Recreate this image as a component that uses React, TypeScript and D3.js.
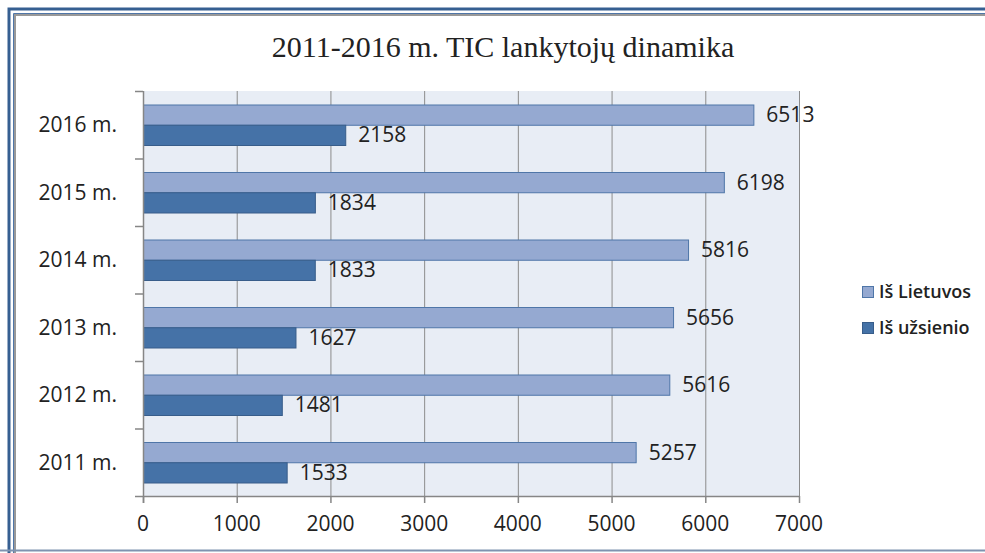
import React, { useEffect } from "react";
import * as d3 from "d3";

// chart data
const years = ["2011 m.", "2012 m.", "2013 m.", "2014 m.", "2015 m.", "2016 m."];
const seriesNames = ["Iš Lietuvos", "Iš užsienio"];
const fromLithuania = [5257, 5616, 5656, 5816, 6198, 6513];
const fromAbroad = [1533, 1481, 1627, 1833, 1834, 2158];
const xTicks = [0, 1000, 2000, 3000, 4000, 5000, 6000, 7000];

const W = 985;
const H = 553;
const plot = { left: 143, right: 799, top: 91, bottom: 496 };
const colors = ["#95a9d1", "#4572a7"];
const strokes = ["#4f76a8", "#385d8a"];
const font = "'Open Sans', 'Liberation Sans', sans-serif";

// frame: only top and left edges are in view
const corner = (o: number) => `M${o},${H} V${o} H${W}`;

export default function App() {
  useEffect(() => {
    document.body.style.overflow = "hidden";
  }, []);

  const x = d3.scaleLinear().domain([0, 7000]).range([plot.left, plot.right]);
  // 2016 on top
  const y = d3
    .scaleBand<string>()
    .domain([...years].reverse())
    .range([plot.top, plot.bottom])
    .paddingInner(0.4)
    .paddingOuter(0.2);
  const sub = d3.scaleBand<number>().domain([0, 1]).range([0, y.bandwidth()]);
  const values = [fromLithuania, fromAbroad];
  const step = y.step();
  const bandEdges = d3.range(years.length + 1).map((i) => plot.top + i * step);

  return (
    <svg
      width={W}
      height={H}
      style={{ position: "absolute", left: 0, top: 0, background: "#fff", overflow: "hidden" }}
    >
      {/* frame */}
      <path d={corner(9)} fill="none" stroke="#365f91" strokeWidth={3} />
      <path d={corner(13.5)} fill="none" stroke="#4f76a8" strokeWidth={1} />
      <path d={corner(15)} fill="none" stroke="#999" strokeWidth={2} />
      <line x1={0} x2={W} y1={550.5} y2={550.5} stroke="#7f93b0" strokeWidth={2} />

      {/* title */}
      <text
        x={503}
        y={57}
        textAnchor="middle"
        fontFamily="'Liberation Serif', 'DejaVu Serif', serif"
        fontSize={30}
        fill="#222"
      >
        2011-2016 m. TIC lankytojų dinamika
      </text>

      {/* plot background */}
      <rect
        x={plot.left}
        y={plot.top}
        width={plot.right - plot.left}
        height={plot.bottom - plot.top}
        fill="#e8edf5"
      />
      {/* grid */}
      {xTicks.slice(1).map((t) => (
        <line key={t} x1={x(t) + 0.5} x2={x(t) + 0.5} y1={plot.top} y2={plot.bottom} stroke="#8c8c8c" />
      ))}

      {/* bars */}
      {years.map((yr, i) =>
        values.map((vals, s) => (
          <rect
            key={yr + s}
            x={x(0) + 0.5}
            y={(y(yr) as number) + (sub(s) as number) + 0.5}
            width={x(vals[i]) - x(0)}
            height={sub.bandwidth()}
            fill={colors[s]}
            stroke={strokes[s]}
            strokeWidth={1}
          />
        ))
      )}

      {/* value labels */}
      {years.map((yr, i) =>
        values.map((vals, s) => (
          <text
            key={"l" + yr + s}
            x={x(vals[i]) + 13}
            y={(y(yr) as number) + (sub(s) as number) + sub.bandwidth() / 2}
            dy="0.36em"
            fontFamily={font}
            fontSize={21}
            fill="#222"
          >
            {vals[i]}
          </text>
        ))
      )}

      {/* axes */}
      <line x1={plot.left + 0.5} x2={plot.left + 0.5} y1={plot.top} y2={plot.bottom + 7} stroke="#868686" strokeWidth={1.5} />
      <line x1={plot.left} x2={plot.right + 1} y1={plot.bottom + 0.5} y2={plot.bottom + 0.5} stroke="#868686" strokeWidth={1.5} />
      {bandEdges.map((e, i) => (
        <line key={"yt" + i} x1={plot.left - 8} x2={plot.left} y1={e + 0.5} y2={e + 0.5} stroke="#868686" strokeWidth={1.5} />
      ))}
      {xTicks.map((t) => (
        <line key={"xt" + t} x1={x(t) + 0.5} x2={x(t) + 0.5} y1={plot.bottom} y2={plot.bottom + 7} stroke="#868686" strokeWidth={1.5} />
      ))}
      {xTicks.map((t) => (
        <text key={"xl" + t} x={x(t)} y={531} textAnchor="middle" fontFamily={font} fontSize={21} fill="#222">
          {t}
        </text>
      ))}
      {years.map((yr) => (
        <text
          key={"yl" + yr}
          x={117}
          y={(y(yr) as number) + y.bandwidth() / 2}
          dy="0.36em"
          textAnchor="end"
          fontFamily={font}
          fontSize={21}
          fill="#222"
        >
          {yr}
        </text>
      ))}

      {/* legend */}
      {seriesNames.map((n, s) => (
        <g key={n} transform={`translate(862, ${286 + s * 36})`}>
          <rect x={0.5} y={0.5} width={11} height={11} fill={colors[s]} stroke={strokes[s]} />
          <text x={17} y={6} dy="0.36em" fontFamily={font} fontSize={18} fontWeight={600} fill="#222">
            {n}
          </text>
        </g>
      ))}
    </svg>
  );
}
